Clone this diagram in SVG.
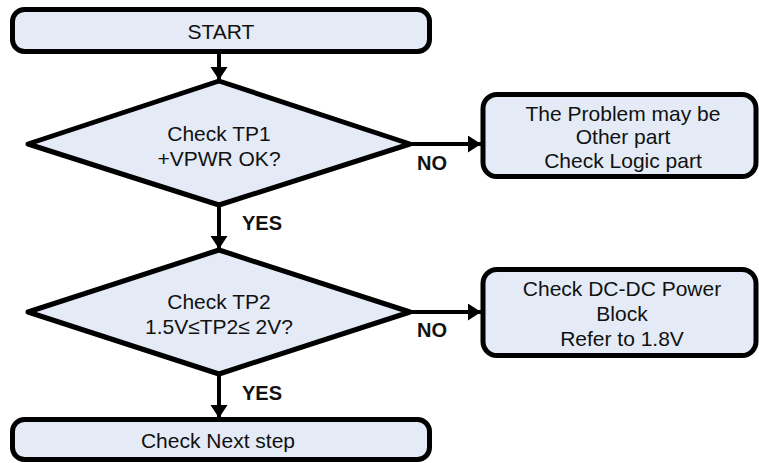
<svg xmlns="http://www.w3.org/2000/svg" width="759" height="463" viewBox="0 0 759 463">
<style>
.box{fill:#E4EBF6;stroke:#000;stroke-width:5;stroke-linejoin:round}
.t{font-family:"Liberation Sans",Arial,sans-serif;font-size:21px;fill:#111;text-anchor:middle}
.lb{font-family:"Liberation Sans",Arial,sans-serif;font-size:20px;font-weight:bold;fill:#111}
.c{stroke:#000;stroke-width:4;fill:none}
</style>
<defs>
<marker id="ah" markerUnits="userSpaceOnUse" markerWidth="14" markerHeight="18" refX="13" refY="8.5" orient="auto">
<path d="M0,0 L13,8.5 L0,17 Z" fill="#000"/>
</marker>
</defs>
<g id="connectors">
<line class="c" x1="219" y1="52" x2="219" y2="80" marker-end="url(#ah)"/>
<line class="c" x1="219" y1="205" x2="219" y2="249" marker-end="url(#ah)"/>
<line class="c" x1="219" y1="374" x2="219" y2="418" marker-end="url(#ah)"/>
<line class="c" x1="410" y1="144" x2="481" y2="144" marker-end="url(#ah)"/>
<line class="c" x1="410" y1="312" x2="481" y2="312" marker-end="url(#ah)"/>
<text class="lb" x="242" y="230">YES</text>
<text class="lb" x="242" y="400">YES</text>
<text class="lb" x="417" y="170">NO</text>
<text class="lb" x="417" y="337">NO</text>
</g>
<g id="start">
<rect class="box" x="12.5" y="9.5" width="417" height="42" rx="12"/>
<text class="t" x="221" y="39">START</text>
</g>
<g id="d1">
<polygon class="box" points="219,81 410,144 219,205 28,144"/>
<text class="t" x="219" y="141">Check TP1</text>
<text class="t" x="219" y="166">+VPWR OK?</text>
</g>
<g id="b1">
<rect class="box" x="483" y="94.5" width="273" height="82" rx="14"/>
<text class="t" x="623" y="120.5">The Problem may be</text>
<text class="t" x="623" y="144">Other part</text>
<text class="t" x="623" y="167.5">Check Logic part</text>
</g>
<g id="d2">
<polygon class="box" points="219,250 410,312 219,374 28,312"/>
<text class="t" x="219" y="309">Check TP2</text>
<text class="t" x="219" y="334">1.5V≤TP2≤ 2V?</text>
</g>
<g id="b2">
<rect class="box" x="483" y="269.5" width="273" height="86" rx="14"/>
<text class="t" x="622" y="295.5">Check DC-DC Power</text>
<text class="t" x="622" y="320.5">Block</text>
<text class="t" x="622" y="345.5">Refer to 1.8V</text>
</g>
<g id="next">
<rect class="box" x="12.5" y="419.5" width="417" height="40" rx="12"/>
<text class="t" x="218" y="447.5">Check Next step</text>
</g>
</svg>
